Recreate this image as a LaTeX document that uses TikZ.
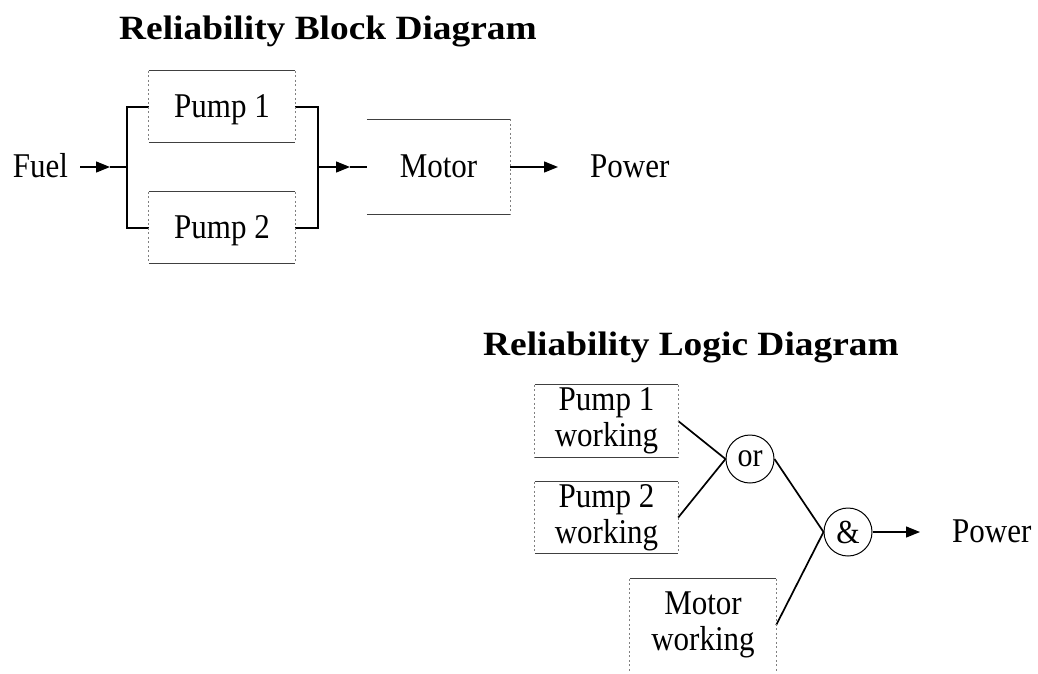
\documentclass[tikz,border=0pt]{standalone}
\usepackage{fontspec}
\usepackage{graphicx}
\setmainfont{Liberation Serif}
\usetikzlibrary{arrows.meta}
\newcommand{\vstr}[1]{\scalebox{1}[1.12]{#1}}
\newcommand{\ttlstr}[1]{\scalebox{1.1}[1]{#1}}
\begin{document}
\begin{tikzpicture}[x=1pt,y=-1pt,
  ttl/.style={anchor=base west, inner sep=0pt, font=\fontsize{34}{40}\selectfont\bfseries},
  lbl/.style={inner sep=0pt, font=\fontsize{31}{36}\selectfont},
  blk/.style={inner sep=0pt, font=\fontsize{31}{36}\selectfont, text height=21pt, text depth=0pt},
  lbox/.style={inner sep=0pt, align=center, font=\fontsize{31}{36}\selectfont},
  gate/.style={circle, draw, line width=1pt, minimum size=48pt, inner sep=0pt, font=\fontsize{30}{34}\selectfont},
  hedge/.style={draw=black!75, line width=0.9pt},
  vedge/.style={draw=black!50, line width=0.9pt, dash pattern=on 2pt off 2.5pt},
  bus/.style={line width=2pt},
  conn/.style={line width=1.3pt},
  logic/.style={line width=1.7pt},
  arr/.style={line width=1.3pt, -{Triangle[length=14pt, width=11pt]}}
]
\useasboundingbox (0,0) rectangle (1038,673);

% ---------- Reliability Block Diagram ----------
\node[ttl] (t1) at (119,39) {\ttlstr{Reliability Block Diagram}};

\coordinate (lbus) at (127,167);
\coordinate (rbus) at (318,167);
\coordinate (ftip) at (110,167);
\coordinate (mtip) at (350,167);

\node[lbl, inner xsep=12pt, text height=21pt, text depth=0pt] (fuel) at (40.5,167) {\vstr{Fuel}};
\node[blk, minimum width=146pt, minimum height=71pt] (p1) at (222,106.5) {\vstr{Pump 1}};
\node[blk, minimum width=146pt, minimum height=71pt] (p2) at (222,227.5) {\vstr{Pump 2}};
\node[blk, minimum width=143pt, minimum height=95pt] (mot) at (438.5,167) {\vstr{Motor}};
\node[lbl, anchor=west, text height=21pt, text depth=0pt] (pw1) at (590,167) {\vstr{Power}};

\draw[bus] (p1.west) -| (lbus) |- (p2.west);
\draw[bus] (p1.east) -| (rbus) |- (p2.east);
\draw[arr] (fuel.east) -- (ftip);
\draw[conn] (ftip) -- (lbus);
\draw[arr] (rbus) -- (mtip);
\draw[conn] (mtip) -- (mot.west);
\draw[arr, shorten >=32pt] (mot.east) -- (pw1.west);

% ---------- Reliability Logic Diagram ----------
\node[ttl] (t2) at (483,355) {\ttlstr{Reliability Logic Diagram}};

\node[lbox, minimum width=143pt, minimum height=72pt] (lp1) at (606.5,421) {\vstr{Pump 1}\\\vstr{working}};
\node[lbox, minimum width=143pt, minimum height=71pt] (lp2) at (606.5,517.5) {\vstr{Pump 2}\\\vstr{working}};
\node[lbox, minimum width=146pt, minimum height=92pt] (lmot) at (703,625) {\vstr{Motor}\\\vstr{working}};
\node[gate] (gor) at (750,459) {\vstr{or}};
\node[gate] (gand) at (848,532) {\vstr{\&}};
\node[lbl, anchor=west, text height=21pt, text depth=0pt] (pw2) at (952,532) {\vstr{Power}};

\draw[logic] (lp1.east) -- (gor.west);
\draw[logic] (lp2.east) -- (gor.west);
\draw[logic] (gor.east) -- (gand.west);
\draw[logic] (lmot.east) -- (gand.west);
\draw[arr, shorten >=32pt] (gand.east) -- (pw2.west);

% ---------- box outlines (faint, as in the scan) ----------
\foreach \b in {p1,p2,mot,lp1,lp2,lmot}{
  \draw[hedge] (\b.north west) -- (\b.north east);
  \draw[vedge] (\b.north east) -- (\b.south east);
}
\foreach \b in {p1,p2,mot,lp1,lp2}{
  \draw[hedge] (\b.south west) -- (\b.south east);
}
\foreach \b in {p1,p2,lp1,lp2,lmot}{
  \draw[vedge] (\b.north west) -- (\b.south west);
}
\end{tikzpicture}
\end{document}
